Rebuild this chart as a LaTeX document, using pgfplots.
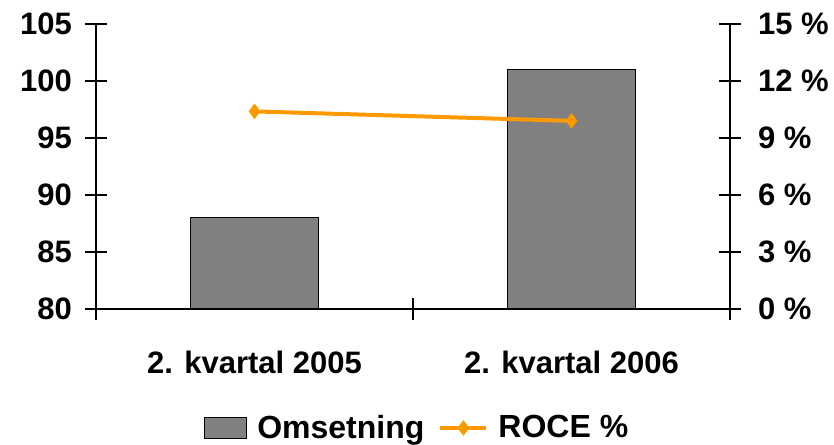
\documentclass[border=0pt]{standalone}
\usepackage{fontspec}
\setmainfont{Liberation Sans}
\usepackage{pgfplots}
\pgfplotsset{compat=1.18}
\definecolor{barfill}{RGB}{128,128,128}
\definecolor{roce}{RGB}{255,153,0}
\newcommand{\lbl}{\fontsize{15.5}{18}\selectfont\bfseries}
\newcommand{\leg}{\fontsize{16}{18}\selectfont\bfseries}
\pgfplotsset{roceleg/.style={legend image code/.code={\draw[##1, mark repeat=2, mark phase=2] plot coordinates {(0pt,0pt) (11.5pt,0pt) (23pt,0pt)};}}}
\begin{document}
\begin{tikzpicture}
\useasboundingbox (0,0) rectangle (417pt,222pt);
\pgfplotsset{
  base/.style={
    at={(48pt,67.5pt)}, anchor=south west,
    scale only axis, width=317pt, height=142.5pt,
    xmin=-0.5, xmax=1.5,
    tick align=center, major tick length=11pt, minor tick length=11pt,
    tick style={black, line width=0.6pt},
    axis line style={black, line width=0.6pt},
    /pgf/number format/assume math mode=true,
    tick label style={font=\lbl},
  }
}
\begin{axis}[base,
  axis y line*=left, axis x line*=bottom,
  ymin=80, ymax=105, ytick={80,85,...,105},
  xtick={0,1}, xticklabels={2. kvartal 2005, 2. kvartal 2006},
  major x tick style={draw=none},
  minor xtick={-0.5,0.5,1.5},
  xticklabel style={yshift=-12pt},
  yticklabel style={xshift=-3pt},
  clip=false,
]
\addplot[ybar, bar width=64pt, fill=barfill, draw=black, line width=0.6pt]
  coordinates {(0,88) (1,101)};
\end{axis}
\begin{axis}[base,
  axis y line*=right, axis x line=none,
  ymin=0, ymax=15, ytick={0,3,...,15},
  yticklabels={0 \%, 3 \%, 6 \%, 9 \%, 12 \%, 15 \%},
  yticklabel style={xshift=5pt},
  legend style={at={(0.505,-0.4175)}, anchor=center, draw=none, font=\leg,
    nodes={inner xsep=0pt},
    /tikz/every odd column/.append style={column sep=5pt},
    /tikz/every even column/.append style={column sep=7pt}},
  legend columns=2,
  clip=false,
]
\addlegendimage{legend image code/.code={\draw[fill=barfill, draw=black, line width=0.6pt] (0pt,-5.25pt) rectangle (21pt,5.25pt);}}
\addlegendentry{Omsetning}
\addplot[color=roce, line width=2pt, mark=diamond*, mark size=3.5pt,
  mark options={fill=roce, draw=roce, line width=0.5pt}, roceleg]
  coordinates {(0,10.4) (1,9.9)};
\addlegendentry{ROCE \%}
\end{axis}
\end{tikzpicture}
\end{document}
